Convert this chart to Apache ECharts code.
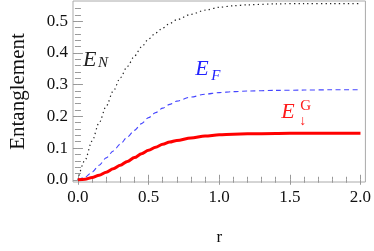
<!DOCTYPE html>
<html><head><meta charset="utf-8">
<script src="https://cdn.jsdelivr.net/npm/echarts@6/dist/echarts.min.js"></script>
<style>html,body{margin:0;padding:0;background:#fff}#c{width:374px;height:251px}
#pre{position:absolute;left:0;top:0;color:#fff;font-family:'Liberation Serif';font-size:17px;z-index:-1}</style>
</head><body><div id="pre">0.5 Entanglement <i>E N F</i> G r</div><div id="c"></div>
<script>
// r values and series
var rVals = [0, 0.05, 0.1, 0.15, 0.2, 0.25, 0.3, 0.35, 0.4, 0.45, 0.5, 0.55, 0.6, 0.65, 0.7, 0.8, 0.9, 1.0, 1.1, 1.2, 1.4, 1.6, 1.8, 2.0];
var eN = [0, 0.062, 0.122, 0.180, 0.232, 0.280, 0.322, 0.358, 0.390, 0.419, 0.444, 0.463, 0.479, 0.493, 0.505, 0.522, 0.535, 0.544, 0.549, 0.552, 0.555, 0.556, 0.556, 0.556];
var eF = [0, 0.008, 0.024, 0.046, 0.069, 0.091, 0.113, 0.135, 0.156, 0.177, 0.196, 0.212, 0.226, 0.238, 0.248, 0.261, 0.270, 0.275, 0.278, 0.280, 0.282, 0.283, 0.284, 0.284];
var eG = [0, 0.002, 0.007, 0.014, 0.024, 0.035, 0.046, 0.058, 0.070, 0.082, 0.093, 0.103, 0.112, 0.119, 0.124, 0.132, 0.138, 0.142, 0.144, 0.145, 0.146, 0.147, 0.147, 0.147];
var xMajor = [0, 0.5, 1.0, 1.5, 2.0];
var xMinor = [0.1,0.2,0.3,0.4,0.6,0.7,0.8,0.9,1.1,1.2,1.3,1.4,1.6,1.7,1.8,1.9];
var yMajor = [0, 0.1, 0.2, 0.3, 0.4, 0.5];
var yMinor = [0.02,0.04,0.06,0.08,0.12,0.14,0.16,0.18,0.22,0.24,0.26,0.28,0.32,0.34,0.36,0.38,0.42,0.44,0.46,0.48,0.52,0.54];

function pairs(xs, ys){ return xs.map(function(x,i){return [x, ys[i]];}); }
// force layout so the local serif font gets loaded before drawing
var preW = document.getElementById('pre').offsetWidth;

function fontOk(name){
  var c = document.createElement('canvas').getContext('2d');
  c.font = '40px monospace'; var a = c.measureText('Entanglement 0.5').width;
  c.font = '40px ' + name + ', monospace'; var b = c.measureText('Entanglement 0.5').width;
  return Math.abs(a - b) > 0.5;
}
var tickColor = '#999';
var chart = null;
function draw(){
  var SERIF = fontOk('Liberation Serif') ? 'Liberation Serif' : 'DejaVu Serif';
  var dv = SERIF === 'DejaVu Serif';
  var fs = dv ? 15 : 17, fsY = dv ? 17 : 21, fsE = dv ? 19 : 22, fsS = dv ? 13 : 15;
  function xAx(pos, vals, len, labels){
    return {type:'value', min:-0.035, max:2.035, position:pos, gridIndex:0,
      axisLine:{show:false}, splitLine:{show:false},
      axisTick:{show:true, inside:true, length:len, customValues:vals, lineStyle:{color:tickColor, width:1}},
      axisLabel:{show:labels, customValues:vals, formatter:function(v){return v.toFixed(1);}, fontFamily:SERIF, fontSize:fs, color:'#111', margin:7},
      name: labels ? 'r' : '', nameLocation:'middle', nameGap:47, nameTextStyle:{fontFamily:SERIF, fontSize:fs, color:'#111'}};
  }
  function yAx(pos, vals, len, labels){
    return {type:'value', min:-0.007, max:0.564, position:pos, gridIndex:0,
      axisLine:{show:false}, splitLine:{show:false},
      axisTick:{show:true, inside:true, length:len, customValues:vals, lineStyle:{color:tickColor, width:1}},
      axisLabel:{show:labels, customValues:vals, formatter:function(v){return v.toFixed(1);}, fontFamily:SERIF, fontSize:fs, color:'#111', margin:5},
      name: labels ? 'Entanglement' : '', nameLocation:'middle', nameGap:44, nameTextStyle:{fontFamily:SERIF, fontSize:fsY, color:'#111'}};
  }
  if (chart) chart.dispose();
  chart = echarts.init(document.getElementById('c'), null, {renderer:'canvas'});
  chart.setOption({
    animation:false,
    textStyle:{fontFamily:SERIF},
    grid:{left:67, right:8, top:1, bottom:67, show:true, borderColor:'#aaa', borderWidth:1, backgroundColor:'transparent'},
    xAxis:[xAx('bottom', xMajor, 5, true), xAx('bottom', xMinor, 3, false), xAx('top', xMajor, 5, false), xAx('top', xMinor, 3, false)],
    yAxis:[yAx('left', yMajor, 5, true), yAx('left', yMinor, 3, false), yAx('right', yMajor, 5, false), yAx('right', yMinor, 3, false)],
    series:[
      {type:'line', xAxisIndex:0, yAxisIndex:0, data:pairs(rVals,eN), smooth:0.3, smoothMonotone:'x', showSymbol:false, lineStyle:{color:'#222', width:1.2, type:[1.3,3.2]}},
      {type:'line', xAxisIndex:0, yAxisIndex:0, data:pairs(rVals,eF), smooth:0.3, smoothMonotone:'x', showSymbol:false, lineStyle:{color:'#4545ff', width:1.1, type:[5,3.5]}},
      {type:'line', xAxisIndex:0, yAxisIndex:0, data:pairs(rVals,eG), smooth:0.3, smoothMonotone:'x', showSymbol:false, lineStyle:{color:'#ff0000', width:3}}
    ]
  });
  function px(x,y){ return chart.convertToPixel({xAxisIndex:0, yAxisIndex:0}, [x,y]); }
  function txt(p, dx, dy, s, size, color, italic){
    return {type:'text', x:p[0]+dx, y:p[1]+dy, silent:true,
      style:{text:s, fill:color, fontFamily:SERIF, fontSize:size, fontStyle:italic?'italic':'normal'}};
  }
  var pN = px(0.035, 0.40), pF = px(0.83, 0.37), pG = px(1.44, 0.236);
  chart.setOption({graphic:[
    txt(pN, 0, -4, 'E', fsE, '#222', true),
    txt(pN, 15, 3, 'N', fsS, '#222', true),
    txt(pF, 0, -4, 'E', fsE, '#2222ff', true),
    txt(pF, 16, 6, 'F', fsS, '#2222ff', true),
    txt(pG, 0, -4, 'E', fsE, '#ff1a1a', true),
    txt(pG, 19, -6, 'G', fsS, '#ff1a1a', false),
    txt(pG, 18, 9, '\u2193', 14, '#ff1a1a', false)
  ]});
}
draw();
if (document.fonts && document.fonts.load) {
  Promise.all([
    document.fonts.load('17px "Liberation Serif"'),
    document.fonts.load('italic 22px "Liberation Serif"')
  ]).then(function(){ draw(); }, function(){});
}
</script></body></html>
